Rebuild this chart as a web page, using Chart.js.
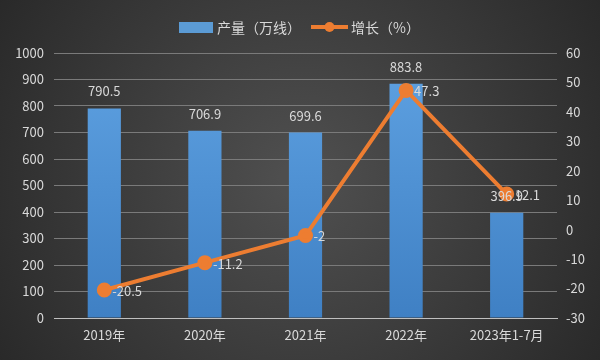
<!DOCTYPE html>
<html><head><meta charset="utf-8">
<script src="https://cdn.jsdelivr.net/npm/chart.js@4/dist/chart.umd.min.js"></script>
<style>html,body{margin:0;padding:0;background:#2b2b2b}#wrap{width:600px;height:360px;position:relative}</style>
</head><body><div id="wrap"><canvas id="c" width="600" height="360"></canvas></div>
<script>
const categories = ['2019年','2020年','2021年','2022年','2023年1-7月'];
const outputValues = [790.5, 706.9, 699.6, 883.8, 396.9];
const growthValues = [-20.5, -11.2, -2, 47.3, 12.1];
const seriesNames = ['产量（万线）','增长（%）'];

const FONT = '"Noto Sans CJK SC", "Noto Sans", sans-serif';
const TXT = '#d9d9d9';

const bgPlugin = {
  id: 'bg',
  beforeDraw(chart) {
    const ctx = chart.ctx, w = chart.width, h = chart.height;
    const g = ctx.createRadialGradient(w/2, h/2, 20, w/2, h/2, 380);
    g.addColorStop(0, '#4e4e4e');
    g.addColorStop(1, '#262626');
    ctx.save(); ctx.fillStyle = g; ctx.fillRect(0, 0, w, h); ctx.restore();
  }
};

const labelPlugin = {
  id: 'labels',
  afterDatasetsDraw(chart) {
    const ctx = chart.ctx;
    ctx.save();
    ctx.font = '13px ' + FONT;
    ctx.fillStyle = TXT;
    const m0 = chart.getDatasetMeta(0);
    m0.data.forEach((el, i) => {
      ctx.textAlign = 'center'; ctx.textBaseline = 'middle';
      ctx.fillText(String(outputValues[i]), el.x, el.y - 17);
    });
    const m1 = chart.getDatasetMeta(1);
    m1.data.forEach((el, i) => {
      ctx.textAlign = 'left'; ctx.textBaseline = 'middle';
      ctx.fillText(String(growthValues[i]), el.x + 8, el.y + 1);
    });
    const ly = 27;
    ctx.font = '14px ' + FONT;
    ctx.fillStyle = '#5b9bd5';
    ctx.fillRect(179, ly - 5, 34, 11);
    ctx.fillStyle = TXT; ctx.textAlign = 'left'; ctx.textBaseline = 'middle';
    ctx.fillText(seriesNames[0], 217, ly + 1);
    ctx.strokeStyle = '#ed7d31'; ctx.lineWidth = 4;
    ctx.beginPath(); ctx.moveTo(311, ly); ctx.lineTo(348, ly); ctx.stroke();
    ctx.fillStyle = '#ed7d31';
    ctx.beginPath(); ctx.arc(329.5, ly, 5, 0, Math.PI*2); ctx.fill();
    ctx.fillStyle = TXT;
    ctx.fillText(seriesNames[1], 351, ly + 1);
    ctx.restore();
  }
};

const ctx = document.getElementById('c').getContext('2d');
const barGrad = ctx.createLinearGradient(0, 53, 0, 318);
barGrad.addColorStop(0, '#5fa2e2');
barGrad.addColorStop(1, '#3f80c4');

new Chart(ctx, {
  data: {
    labels: categories,
    datasets: [
      { type: 'bar', label: seriesNames[0], data: outputValues, yAxisID: 'y',
        backgroundColor: barGrad, barPercentage: 0.33, categoryPercentage: 1.0, order: 2 },
      { type: 'line', label: seriesNames[1], data: growthValues, yAxisID: 'y1',
        borderColor: '#ed7d31', backgroundColor: '#ed7d31', borderWidth: 4,
        pointRadius: 5.5, pointHoverRadius: 5.5, pointBackgroundColor: '#ed7d31',
        pointBorderColor: '#ed7d31', tension: 0, order: 1 }
    ]
  },
  options: {
    responsive: false, animation: false, devicePixelRatio: 1,
    layout: { padding: { top: 53, left: 0, right: 0, bottom: 0 } },
    plugins: { legend: { display: false }, tooltip: { enabled: false } },
    scales: {
      x: {
        grid: { display: false, drawTicks: false },
        border: { color: '#bfbfbf', width: 1 },
        ticks: { color: TXT, font: { size: 13, family: FONT }, padding: 9, maxRotation: 0, autoSkip: false },
        afterFit(s) { s.height = 42; }
      },
      y: {
        position: 'left', min: 0, max: 1000,
        ticks: { stepSize: 100, color: TXT, font: { size: 13, family: FONT }, padding: 10,
                 callback: (v) => String(v) },
        grid: { color: '#7a7a7a', lineWidth: 1, drawTicks: false },
        border: { display: false },
        afterFit(s) { s.width = 54; }
      },
      y1: {
        position: 'right', min: -30, max: 60,
        ticks: { stepSize: 10, color: TXT, font: { size: 13, family: FONT }, padding: 9 },
        grid: { drawOnChartArea: false, drawTicks: false },
        border: { display: false },
        afterFit(s) { s.width = 43; }
      }
    }
  },
  plugins: [bgPlugin, labelPlugin]
});
</script></body></html>
